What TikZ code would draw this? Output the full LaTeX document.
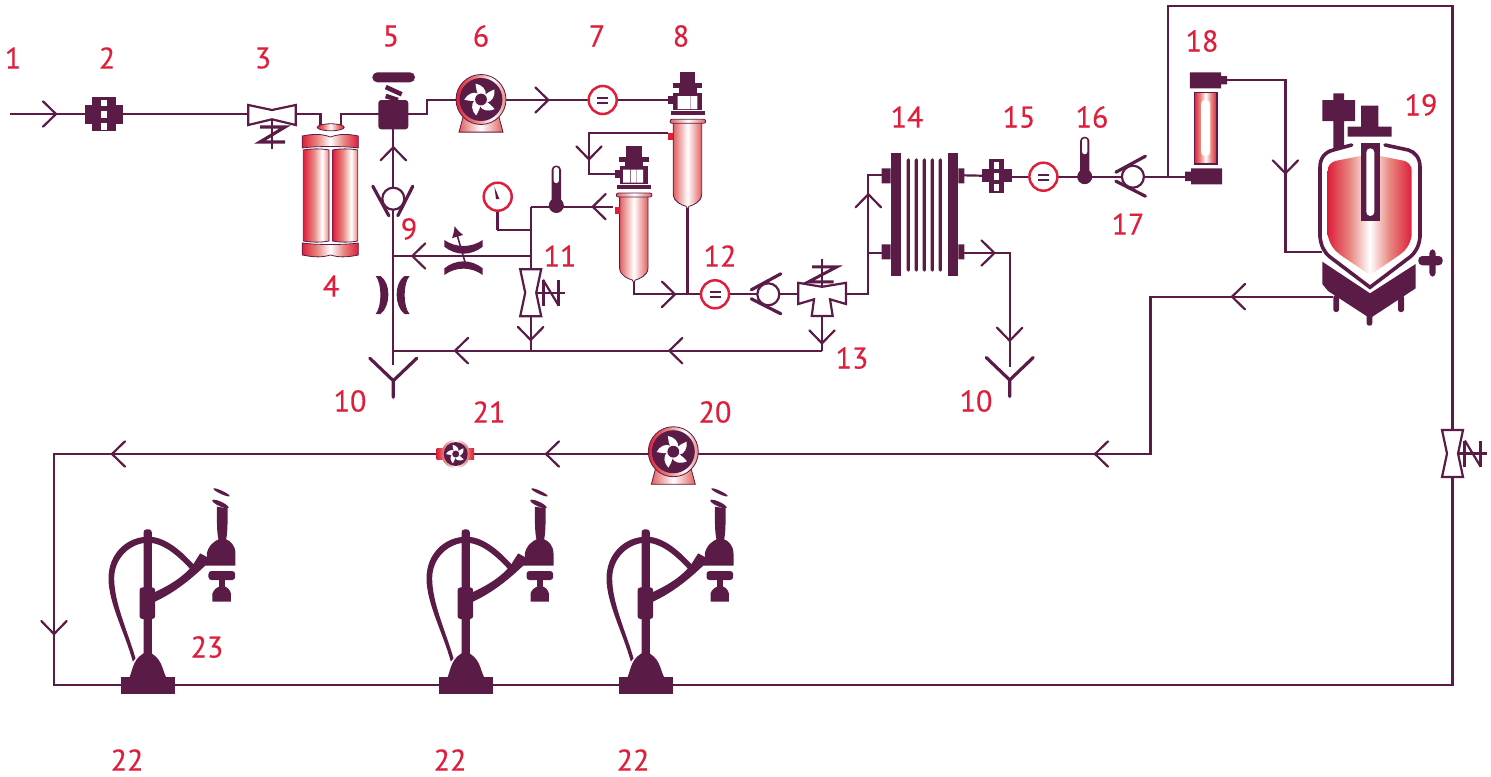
\documentclass[tikz,border=0pt]{standalone}
\usepackage{fontspec}
\usetikzlibrary{arrows.meta}
\setmainfont{PT Sans}
\newfontfamily\labfont[FakeBold=0.35]{PT Sans}
\definecolor{dk}{HTML}{5A1C47}
\definecolor{rd}{HTML}{DE1F3B}
\definecolor{sm}{HTML}{E8857E}
\definecolor{ts}{HTML}{E0605F}
\pgfdeclarehorizontalshading{symsh}{100bp}{color(0bp)=(rd);color(25bp)=(rd);color(38bp)=(sm);color(50bp)=(white);color(62bp)=(sm);color(75bp)=(rd);color(100bp)=(rd)}
\pgfdeclarehorizontalshading{tubesh}{100bp}{color(0bp)=(rd);color(25bp)=(rd);color(45bp)=(sm);color(62bp)=(white);color(75bp)=(sm);color(100bp)=(sm)}
\pgfdeclarehorizontalshading{tanksh}{100bp}{color(0bp)=(ts);color(25bp)=(ts);color(50bp)=(white);color(75bp)=(ts);color(100bp)=(ts)}
\tikzset{
 pipe/.style={draw=dk,line width=1.1pt,line join=miter},
 lab/.style={text=rd,font=\labfont\fontsize{15}{15}\selectfont,inner sep=0pt},
 chev/.pic={\draw[dk,line width=1.1pt,line cap=round,miter limit=10] (-13,-12.7)--(0,0)--(-13,12.7);},
 fanblades/.pic={\foreach \a in {0,72,144,216,288}{\fill[white,rotate=\a] (-0.1,-0.1) .. controls (-0.3,-0.5) and (-0.32,-0.75) .. (-0.35,-1.02) .. controls (0.05,-0.95) and (0.38,-0.65) .. (0.3,-0.25) -- cycle;}},
 pumpbig/.pic={
  \path[draw=dk,line width=.4pt,shade,shading=tanksh] (-17,14)--(-22,32.6)--(22,32.6)--(17,14)--cycle;
  \path[draw=dk,line width=.4pt,shade,shading=tubesh] (0,0) circle (25);
  \fill[dk] (0,0) circle (21.5);
  \pic[scale=15.5] {fanblades};
  \fill[dk] (0,0) circle (5.9);},
 pumpsmall/.pic={
  \path[shade,shading=symsh] (-19,-6) rectangle (18.3,5.7);
  \path[shade,shading=tanksh] (0,0) circle (14.3);
  \fill[dk] (0,0) circle (12);
  \pic[scale=9] {fanblades};
  \fill[dk] (0,0) circle (3.5);},
 strainer/.pic={
  \fill[dk] (-12,-17) rectangle (12,17);
  \fill[dk] (-19,-9.5) rectangle (19,9.5);
  \fill[white] (-2.7,-14) rectangle (2.7,-8);
  \fill[white] (-2.7,-3.5) rectangle (2.7,3.5);
  \fill[white] (-2.7,9) rectangle (2.7,16);},
 strainersmall/.pic={
  \fill[dk] (-7.7,-17) rectangle (7.7,17.3);
  \fill[dk] (-15,-6.7) rectangle (15,6.3);
  \fill[white] (-2.7,-14.3) rectangle (2.7,-7);
  \fill[white] (-2.7,-3.3) rectangle (2.7,4);
  \fill[white] (-2.7,8) rectangle (2.7,15);},
 flowm/.pic={
  \draw[rd,line width=1.25pt,fill=white] (0,0) circle (14);
  \draw[dk,line width=1pt] (-5.5,-2.2)--(5.5,-2.2) (-5.5,3)--(5.5,3);},
 gauge/.pic={
  \draw[rd,line width=1.25pt,fill=white] (0,0) circle (14);
  \fill[dk] (-3.3,-10)--(-1.7,2.3)--(1.7,2.3)--cycle;},
 thermo/.pic={
  \fill[dk,rounded corners=2.2pt] (-4.7,-40) rectangle (4.7,0);
  \fill[white,rounded corners=1.2pt] (-2.6,-38.3) rectangle (2.6,-22.5);
  \fill[dk] (0,0) circle (7.5);},
 checkv/.pic={
  \draw[dk,line width=1.1pt,fill=white] (0,0) circle (11);
  \draw[dk,line width=1.6pt,line cap=round] (12.5,-20.5)--(-17,-4.5) (12.5,19.5)--(-17,4.5);},
 bowv/.pic={
  \draw[dk,line width=1.1pt] (5,0)--(34.7,0);
  \draw[dk,line width=1.1pt,fill=white] (-10.5,-23.5)--(10.5,-23.5)--(5.5,0)--(10.5,23.5)--(-10.5,23.5)--(-5.5,0)--cycle;
  \draw[dk,line width=1.5pt] (12.3,-13)--(12.3,13) (28,-13)--(28,13);
  \draw[dk,line width=1.1pt] (12.3,-13)--(28,13);},
 drain/.pic={\draw[dk,line width=1.6pt,line cap=round] (-23.5,-22.5)--(0,0)--(23.5,-22.5) (0,0)--(0,16.5);},
 headA/.pic={
  \fill[dk] (-7.5,0) rectangle (7.8,11);
  \fill[dk] (-14.8,11) rectangle (14.8,16);
  \fill[dk] (-9,16) rectangle (9,21);
  \fill[dk] (-14.2,20.4) rectangle (14.2,38);
  \fill[dk] (-19.2,23.7) rectangle (-14.2,31.7);
  \fill[dk] (-16.8,38.7) rectangle (17.5,42.7);},
 tank/.pic={
  \path[draw=dk,line width=.4pt,shade,shading=tanksh] (-14.2,50) -- (-14.2,122) .. controls (-14,130) and (-5,133) .. (-1.5,134) -- (0,137) -- (1.5,134) .. controls (5,133) and (14,130) .. (14.2,122) -- (14.2,50) -- cycle;
  \path[draw=dk,line width=.4pt,shade,shading=tanksh,rounded corners=1pt] (-17.5,47) rectangle (18.2,51);
  \path[fill=rd] (-19.2,60.7) rectangle (-14.2,68);},
 z4h/.pic={\draw[dk,line width=1.1pt] (0,-35)--(0,-7);
  \draw[dk,line width=1.5pt] (-10,-27.5)--(15,-27.5)--(-13.5,-12.5)--(11.5,-12.5);},
 filler/.pic={
  \begin{scope}[shift={(-172,-645)}]
  \fill[dk] (93,672) rectangle (253,622);
  \fill[dk] (118,622) .. controls (128,600) and (128,560) .. (172,545) .. controls (216,560) and (216,600) .. (228,622) -- cycle;
  \fill[dk,rounded corners=1.5pt] (160,178) rectangle (185,560);
  \fill[dk,rounded corners=1.5pt] (148,352) rectangle (195,447);
  \fill[dk] (190,368) .. controls (240,345) and (280,320) .. (308,285) -- (330,250) -- (352,262) -- (352,287) -- (345,287) .. controls (300,330) and (250,370) .. (190,397) -- cycle;
  \fill[dk] (128,575) .. controls (105,490) and (55,400) .. (55,325) .. controls (55,250) and (110,200) .. (175,200) .. controls (230,200) and (280,250) .. (312,285) -- (300,297) .. controls (270,265) and (225,220) .. (175,218) .. controls (120,218) and (72,265) .. (72,325) .. controls (72,400) and (115,490) .. (136,565) -- cycle;
  \fill[dk] (350,287) -- (350,250) .. controls (355,225) and (375,212) .. (385,208) .. controls (380,190) and (380,150) .. (380,110) -- (412,115) .. controls (413,150) and (412,190) .. (408,208) .. controls (420,212) and (435,225) .. (436,250) -- (436,287) -- cycle;
  \fill[dk,rotate around={-25:(391,102)}] (391,102) ellipse (27 and 7);
  \fill[dk,rotate around={-25:(394,67)}] (394,67) ellipse (27 and 5);
  \fill[dk,rounded corners=1.5pt] (355,303) rectangle (435,330);
  \fill[dk] (387,330) rectangle (405,352);
  \fill[dk] (367,395) -- (367,370) .. controls (370,360) and (380,352) .. (387,350) -- (405,350) .. controls (412,352) and (420,360) .. (422,370) -- (422,395) -- cycle;
  \end{scope}},
}
\begin{document}
\begin{tikzpicture}[x=0.5pt,y=-0.5pt]
\useasboundingbox (0,0) rectangle (1491,776);
% ---- named points
\coordinate (in) at (10,114);
\coordinate (s2) at (104,114);
\coordinate (v3) at (272,114);
\coordinate (c4a) at (320.5,125);
\coordinate (c4b) at (341,125);
\coordinate (v5) at (393.3,114);
\coordinate (j5) at (426.7,107);
\coordinate (p6) at (481,99.5);
\coordinate (f7) at (602.7,100);
\coordinate (h8) at (687.5,72.3);
\coordinate (h8b) at (633.8,146);
\coordinate (k9) at (393.3,198.7);
\coordinate (d10a) at (393.3,380.7);
\coordinate (t10a) at (393.3,365);
\coordinate (j256) at (393.3,256);
\coordinate (j350) at (393.3,350.7);
\coordinate (v11) at (530.7,292.7);
\coordinate (j11a) at (530.7,256);
\coordinate (j11b) at (530.7,230);
\coordinate (j11c) at (530.7,206.7);
\coordinate (j11d) at (530.7,350.7);
\coordinate (g) at (497.7,196.7);
\coordinate (th1) at (556.3,205.5);
\coordinate (port8) at (668.3,133);
\coordinate (port8h) at (614.6,173.7);
\coordinate (r8a) at (589,133);
\coordinate (r8b) at (589,173.7);
\coordinate (port8b) at (613.3,206.7);
\coordinate (tipa) at (687.5,208);
\coordinate (tipb) at (633.8,281.7);
\coordinate (j294a) at (633.8,294.3);
\coordinate (j294b) at (687.5,294.3);
\coordinate (f12) at (715,294.3);
\coordinate (k12) at (768.3,294.3);
\coordinate (v13) at (822,294.3);
\coordinate (j13) at (822,350.7);
\coordinate (r14a) at (868.3,294.3);
\coordinate (r14b) at (868.3,175.3);
\coordinate (r14c) at (868.3,253);
\coordinate (f14a) at (885,175.3);
\coordinate (f14b) at (885,253);
\coordinate (f14c) at (962,175.3);
\coordinate (f14d) at (962,253);
\coordinate (s15) at (996.7,176);
\coordinate (f15) at (1043.4,176.7);
\coordinate (th2) at (1084.7,176.7);
\coordinate (k17) at (1132.9,176.7);
\coordinate (bot18) at (1187,176.7);
\coordinate (up1) at (1168.2,176.7);
\coordinate (up2) at (1168.2,6);
\coordinate (up3) at (1452.5,6);
\coordinate (v24) at (1452.5,453.5);
\coordinate (up4) at (1452.5,685);
\coordinate (top18) at (1226,80);
\coordinate (d18a) at (1285.4,80);
\coordinate (d18b) at (1285.4,251.7);
\coordinate (ves) at (1322,251.7);
\coordinate (ret1) at (1333,296.7);
\coordinate (ret2) at (1150.5,296.7);
\coordinate (ret3) at (1150.5,454);
\coordinate (p20) at (673.3,451.7);
\coordinate (p21) at (455.7,454);
\coordinate (l1) at (54,454);
\coordinate (l2) at (54,685);
\coordinate (d10b) at (1009.7,380);
\coordinate (t10b) at (1009.7,367);
\coordinate (f1) at (147.5,685);
\coordinate (f2) at (465.5,685);
\coordinate (f3) at (645.5,685);
% ---- pipes
\draw[pipe] (in)--(s2)--(v3)--(v3-|c4a)--(c4a);
\draw[pipe] (c4b)--(c4b|-v5)--(v5);
\draw[pipe] (v5)--(v5-|j5)--(j5|-f7)--(f7)--(f7-|port8);
\draw[pipe] (v5)--(t10a);
\draw[pipe] (j256)--(j11a);
\draw[pipe] (j350)--(j13);
\draw[pipe] (j11c)--(j11d);
\draw[pipe] (j11c)--(port8b);
\draw[pipe] (j11b)--(j11b-|g)--(g);
\draw[pipe] (port8)--(r8a)--(r8b)--(port8h);
\draw[pipe] (tipa)--(j294b);
\draw[pipe] (tipb)--(j294a)--(r14a)--(r14b)--(f14a);
\draw[pipe] (r14c)--(f14b);
\draw[pipe] (j13)--(v13);
\draw[pipe] (f14c)--(s15);
\draw[pipe] (s15|-f15)--(f15)--(bot18);
\draw[pipe] (up1)--(up2)--(up3)--(up4)--(l2)--(l1)--(ret3)--(ret2)--(ret1);
\draw[pipe] (top18)--(d18a)--(d18b)--(ves);
\draw[pipe] (f14d)--(f14d-|t10b)--(t10b);
% ---- arrows
\pic at (56,114) {chev};
\pic at (548.3,100) {chev};
\pic[rotate=90] at (393.3,147.3) {chev};
\pic[rotate=180] at (412.3,256) {chev};
\pic[rotate=180] at (455,350.7) {chev};
\pic[rotate=180] at (669.3,350.7) {chev};
\pic[rotate=-90] at (589,159.3) {chev};
\pic[rotate=180] at (592.7,206.7) {chev};
\pic[rotate=-90] at (530.7,340) {chev};
\pic at (675,294.3) {chev};
\pic[rotate=-90] at (822,343.3) {chev};
\pic[rotate=90] at (868.3,194.3) {chev};
\pic at (994.4,253) {chev};
\pic[rotate=-90] at (1009.7,340.7) {chev};
\pic[rotate=-90] at (1285.4,173.3) {chev};
\pic[rotate=180] at (1232,296.7) {chev};
\pic[rotate=180] at (1095,454) {chev};
\pic[rotate=180] at (546,454) {chev};
\pic[rotate=180] at (112,454) {chev};
\pic[rotate=-90] at (54,634) {chev};
% ---- 2 strainer, 3 valve
\pic at (s2) {strainer};
\begin{scope}[shift={(v3)}]
 \draw[dk,line width=1.1pt,fill=white] (-23.7,-9)--(0,-4)--(23.7,-9)--(23.7,11)--(0,5.3)--(-23.7,11)--cycle;
 \draw[dk,line width=1.1pt] (0,5)--(0,35);
 \draw[dk,line width=1.6pt] (-12,13)--(13,13)--(-12,28)--(13,28);
\end{scope}
% ---- 4 cylinder
\path[draw=dk,line width=.4pt,shade,shading=symsh] (302.3,136) .. controls (315,133.5) and (322,134) .. (330.5,137) .. controls (339,134) and (346,133.5) .. (358.3,136) -- (358.3,148) .. controls (346,146) and (315,146) .. (302.3,148) -- cycle;
\path[draw=dk,line width=.4pt,shade,shading=symsh] (302.3,243) .. controls (315,245) and (346,245) .. (358.3,243) -- (358.3,255) .. controls (346,257.5) and (339,257.5) .. (330.5,255) .. controls (322,257.5) and (315,257.5) .. (302.3,255) -- cycle;
\path[draw=dk,line width=.4pt,shade,shading=tubesh] (303.3,150) .. controls (312,148.5) and (321,148.5) .. (329,150) -- (329,241) .. controls (321,242.5) and (312,242.5) .. (303.3,241) -- cycle;
\path[draw=dk,line width=.4pt,shade,shading=tubesh] (332.7,150) .. controls (340,148.5) and (350,148.5) .. (357.7,150) -- (357.7,241) .. controls (350,242.5) and (340,242.5) .. (332.7,241) -- cycle;
\path[draw=dk,line width=.4pt,shade,shading=symsh] (330.7,127.3) ellipse (13.5 and 3.5);
% ---- 5 valve
\begin{scope}[shift={(v5)}]
 \fill[dk,rounded corners=2.5pt] (-21,-41.7) rectangle (21.7,-31.7);
 \draw[dk,line width=2.3pt] (-7.6,-27)--(8.4,-19.7) (-7.6,-18)--(4.7,-14);
 \fill[dk,rounded corners=1.5pt] (-15,-14) rectangle (15,15.3);
\end{scope}
% ---- 6, 7, 8
\pic at (p6) {pumpbig};
\pic at (f7) {flowm};
\pic at (h8) {headA};
\fill[white] (677.7,96) rectangle (690,109) (690.7,96) rectangle (697.3,109);
\pic at (h8) {tank};
\pic at (h8b) {headA};
\fill[white] (623.1,169.7) rectangle (629.8,182.7) (630.5,169.7) rectangle (636.5,182.7) (637.1,169.7) rectangle (643.1,182.7);
\pic at (h8b) {tank};
% ---- 9, 10
\pic[rotate=90] at (k9) {checkv};
\fill[dk] (375.7,276) -- (380.5,276) .. controls (391,283) and (391,306) .. (380.5,314) -- (375.7,314) .. controls (382,306) and (382,284) .. (375.7,276) -- cycle;
\fill[dk] (409.5,276) -- (404.5,276) .. controls (394,283) and (394,306) .. (404.5,314) -- (409.5,314) .. controls (403,306) and (403,284) .. (409.5,276) -- cycle;
\pic at (d10a) {drain};
\pic at (d10b) {drain};
% ---- variable orifice
\fill[dk] (444.3,240) .. controls (456,248) and (471,248) .. (482.7,240) -- (482.7,246.7) .. controls (471,256) and (456,256) .. (444.3,246.7) -- cycle;
\fill[dk] (444.3,268.3) .. controls (456,259) and (471,259) .. (482.7,268.3) -- (482.7,275) .. controls (471,266.5) and (456,266.5) .. (444.3,275) -- cycle;
\draw[dk,line width=.8pt,-{Latex[length=5.5pt,width=6pt]}] (465,262)--(454.5,226);
% ---- 11, gauge, thermo
\pic at (v11) {bowv};
\draw[dk,line width=1.25pt] (g)--(497.7,230);
\pic at (g) {gauge};
\pic at (th1) {thermo};
\pic at (f12) {flowm};
\pic at (k12) {checkv};
% ---- 13
\begin{scope}[shift={(v13)}]
 \draw[dk,line width=1.1pt,fill=white] (-23.7,-11.5)--(0,-7.5)--(24,-11.5)--(24,9.7)--(8,5)--(10.7,21.7)--(-10.3,21.7)--(-8,5)--(-23.7,9.7)--cycle;
 \pic {z4h};
\end{scope}
% ---- 14 filter
\fill[dk] (890.7,153.3) rectangle (901,275.7);
\fill[dk] (948.3,153.3) rectangle (958.3,275.7);
\fill[dk] (881.7,168.3) rectangle (890.7,183.3) (881.7,244.3) rectangle (890.7,259.3);
\fill[dk] (958.3,168.3) rectangle (964.3,183.3) (958.3,244.3) rectangle (964.3,259.3);
\foreach \x in {908.3,916.3,924.3,932.3,940.3} \fill[dk,rounded corners=.8pt] (\x-1.65,158.3) rectangle (\x+1.65,271.7);
% ---- 15..18
\pic at (s15) {strainersmall};
\pic at (f15) {flowm};
\pic at (th2) {thermo};
\pic at (k17) {checkv};
\fill[dk] (1189.9,72.3) rectangle (1221,88.3) (1221,76) rectangle (1227,84.3);
\path[draw=dk,line width=.8pt,shade,shading=symsh] (1194.3,92.3) rectangle (1217,163.7);
\fill[white,rounded corners=2pt] (1201,100) rectangle (1210,156);
\fill[dk] (1191,168.3) rectangle (1222,184.3) (1185,171.7) rectangle (1191,181);
% ---- 19 vessel
\path[shade,shading=symsh] (1335,161) -- (1360,156) -- (1380,156) -- (1405,161) .. controls (1409,163) and (1411.7,166) .. (1411.7,171) -- (1411.7,235) .. controls (1410,246) and (1405,251) .. (1398,256) -- (1370,275) -- (1342,256) .. controls (1335,251) and (1330,246) .. (1327.7,235) -- (1327.7,171) .. controls (1327.7,166) and (1330,163) .. (1335,161) -- cycle;
\draw[dk,line width=1.8pt,line cap=round] (1351.7,145) -- (1333.3,150) .. controls (1325,152) and (1320,158) .. (1320,167) -- (1320,236.7) .. controls (1321,246) and (1324,252) .. (1330,257) -- (1370,287.3) -- (1410,257) .. controls (1416,252) and (1419,246) .. (1420,236.7) -- (1420,167) .. controls (1420,158) and (1415,152) .. (1408.3,150) -- (1385,145);
\fill[dk] (1361,142.7) rectangle (1380,220.7);
\fill[white,rounded corners=2pt] (1366.3,148.3) rectangle (1374.3,216);
\fill[dk] (1361,105.7) rectangle (1378.3,126.7) (1347.7,126.7) rectangle (1391.7,136.7);
\fill[dk] (1322.3,100) rectangle (1355,121) (1333.3,93.3) rectangle (1344,148);
\fill[dk] (1322.3,261.7) -- (1370,293.3) -- (1415.7,264) -- (1415.7,288.3) -- (1370,318.3) -- (1328,291) -- (1322.3,284) -- cycle;
\fill[dk,rounded corners=1.2pt] (1333.3,295) rectangle (1339,312) (1398,295) rectangle (1404,312) (1366.7,310) rectangle (1372.3,325.7);
\fill[dk,rounded corners=2pt] (1418.3,256) rectangle (1442.7,265.3) (1429.3,249.3) rectangle (1435.7,276.7);
% ---- return line
\pic at (v24) {bowv};
\pic at (p20) {pumpbig};
\pic at (p21) {pumpsmall};
\pic[scale=0.3333] at (f1) {filler};
\pic[scale=0.3333] at (f2) {filler};
\pic[scale=0.3333] at (f3) {filler};
% ---- labels
\node[lab] (n1) at (13,58) {1};
\node[lab] (n2) at (107,58) {2};
\node[lab] (n3) at (263,58) {3};
\node[lab] (n4) at (331,286) {4};
\node[lab] (n5) at (391,36) {5};
\node[lab] (n6) at (481,36) {6};
\node[lab] (n7) at (597,36) {7};
\node[lab] (n8) at (681,36) {8};
\node[lab] (n9) at (409,229) {9};
\node[lab] (n10a) at (350,401) {10};
\node[lab] (n10b) at (976,401) {10};
\node[lab] (n11) at (560,256) {11};
\node[lab] (n12) at (720,256) {12};
\node[lab] (n13) at (852,358) {13};
\node[lab] (n14) at (907,117) {14};
\node[lab] (n15) at (1019,117) {15};
\node[lab] (n16) at (1092,117) {16};
\node[lab] (n17) at (1128,224) {17};
\node[lab] (n18) at (1202,41) {18};
\node[lab] (n19) at (1421,105) {19};
\node[lab] (n20) at (715,412) {20};
\node[lab] (n21) at (489,412) {21};
\node[lab] (n22a) at (127,760) {22};
\node[lab] (n22b) at (450,760) {22};
\node[lab] (n22c) at (633,760) {22};
\node[lab] (n23) at (207,647) {23};
\end{tikzpicture}
\end{document}
